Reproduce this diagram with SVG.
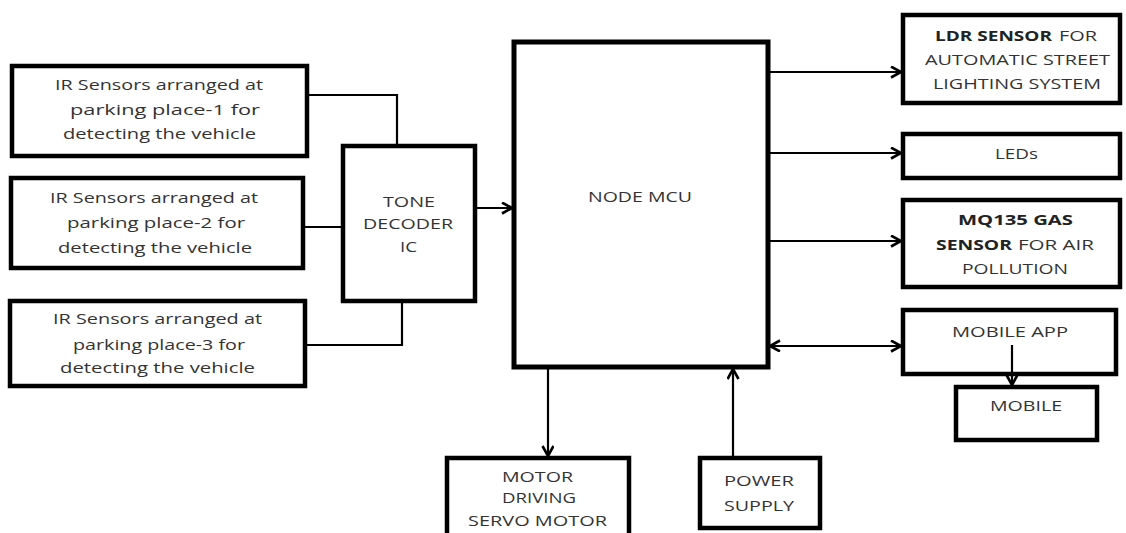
<svg xmlns="http://www.w3.org/2000/svg" width="1126" height="533" viewBox="0 0 1126 533">
<style>
.box{fill:#fff;stroke:#000;stroke-width:4.5}
.mcu{fill:#fff;stroke:#000;stroke-width:5}
.ln{fill:none;stroke:#000;stroke-width:2.2}
.t{font-family:"Open Sans","Liberation Sans",sans-serif;font-size:15px;fill:#333}
.b{font-weight:bold;fill:#222}
</style>
<defs>
<marker id="ah" markerUnits="userSpaceOnUse" markerWidth="14" markerHeight="14" refX="11" refY="6" orient="auto-start-reverse" viewBox="0 0 14 14">
<path d="M1,0.5 L11,6 L1,11.5" fill="none" stroke="#000" stroke-width="2.6"/>
</marker>
</defs>
<rect width="1126" height="533" fill="#fff"/>
<g id="ir1">
<rect class="box" x="12" y="66" width="295" height="90"/>
<text class="t" x="55" y="90" textLength="208" lengthAdjust="spacingAndGlyphs">IR Sensors arranged at</text>
<text class="t" x="70" y="115" textLength="190" lengthAdjust="spacingAndGlyphs">parking place-1 for</text>
<text class="t" x="63" y="139" textLength="193" lengthAdjust="spacingAndGlyphs">detecting the vehicle</text>
</g>
<g id="ir2">
<rect class="box" x="11" y="178" width="292" height="90"/>
<text class="t" x="50" y="203" textLength="208" lengthAdjust="spacingAndGlyphs">IR Sensors arranged at</text>
<text class="t" x="67" y="228" textLength="178" lengthAdjust="spacingAndGlyphs">parking place-2 for</text>
<text class="t" x="58" y="253" textLength="194" lengthAdjust="spacingAndGlyphs">detecting the vehicle</text>
</g>
<g id="ir3">
<rect class="box" x="10" y="301" width="295" height="85"/>
<text class="t" x="53" y="324" textLength="209" lengthAdjust="spacingAndGlyphs">IR Sensors arranged at</text>
<text class="t" x="73" y="350" textLength="172" lengthAdjust="spacingAndGlyphs">parking place-3 for</text>
<text class="t" x="60" y="373" textLength="195" lengthAdjust="spacingAndGlyphs">detecting the vehicle</text>
</g>
<g id="decoder">
<rect class="box" x="343" y="146" width="132" height="155"/>
<text class="t" x="383" y="207" textLength="52" lengthAdjust="spacingAndGlyphs">TONE</text>
<text class="t" x="363" y="229" textLength="90" lengthAdjust="spacingAndGlyphs">DECODER</text>
<text class="t" x="400" y="252" textLength="17" lengthAdjust="spacingAndGlyphs">IC</text>
</g>
<g id="nodemcu">
<rect class="mcu" x="514" y="42" width="254" height="325"/>
<text class="t" x="588" y="202" textLength="104" lengthAdjust="spacingAndGlyphs">NODE MCU</text>
</g>
<g id="ldr">
<rect class="box" x="903" y="15" width="217" height="88"/>
<text class="t b" x="935" y="41" textLength="117" lengthAdjust="spacingAndGlyphs">LDR SENSOR</text>
<text class="t" x="1059" y="41" textLength="38" lengthAdjust="spacingAndGlyphs">FOR</text>
<text class="t" x="925" y="65" textLength="185" lengthAdjust="spacingAndGlyphs">AUTOMATIC STREET</text>
<text class="t" x="933" y="89" textLength="168" lengthAdjust="spacingAndGlyphs">LIGHTING SYSTEM</text>
</g>
<g id="leds">
<rect class="box" x="903" y="134" width="217" height="44"/>
<text class="t" x="995" y="159" textLength="43" lengthAdjust="spacingAndGlyphs">LEDs</text>
</g>
<g id="mq135">
<rect class="box" x="903" y="200" width="217" height="87"/>
<text class="t b" x="958" y="225" textLength="115" lengthAdjust="spacingAndGlyphs">MQ135 GAS</text>
<text class="t b" x="936" y="250" textLength="76" lengthAdjust="spacingAndGlyphs">SENSOR</text>
<text class="t" x="1018" y="250" textLength="76" lengthAdjust="spacingAndGlyphs">FOR AIR</text>
<text class="t" x="962" y="274" textLength="106" lengthAdjust="spacingAndGlyphs">POLLUTION</text>
</g>
<g id="mobileapp">
<rect class="box" x="903" y="310" width="213" height="64"/>
<text class="t" x="952" y="337" textLength="116" lengthAdjust="spacingAndGlyphs">MOBILE APP</text>
</g>
<g id="mobile">
<rect class="box" x="956" y="387" width="141" height="53"/>
<text class="t" x="990" y="411" textLength="72" lengthAdjust="spacingAndGlyphs">MOBILE</text>
</g>
<g id="motor">
<rect class="box" x="447" y="458" width="182" height="90"/>
<text class="t" x="502" y="482" textLength="71" lengthAdjust="spacingAndGlyphs">MOTOR</text>
<text class="t" x="502" y="503" textLength="74" lengthAdjust="spacingAndGlyphs">DRIVING</text>
<text class="t" x="468" y="526" textLength="139" lengthAdjust="spacingAndGlyphs">SERVO MOTOR</text>
</g>
<g id="power">
<rect class="box" x="700" y="458" width="120" height="70"/>
<text class="t" x="724" y="486" textLength="70" lengthAdjust="spacingAndGlyphs">POWER</text>
<text class="t" x="724" y="511" textLength="70" lengthAdjust="spacingAndGlyphs">SUPPLY</text>
</g>
<g id="connectors">
<polyline class="ln" points="309,95 397,95 397,144"/>
<line class="ln" x1="305" y1="227" x2="341" y2="227"/>
<polyline class="ln" points="307,345 402,345 402,303"/>
<line class="ln" x1="477" y1="208" x2="512" y2="208" marker-end="url(#ah)"/>
<line class="ln" x1="770" y1="72" x2="901" y2="72" marker-end="url(#ah)"/>
<line class="ln" x1="770" y1="153" x2="901" y2="153" marker-end="url(#ah)"/>
<line class="ln" x1="770" y1="241" x2="901" y2="241" marker-end="url(#ah)"/>
<line class="ln" x1="770" y1="346" x2="901" y2="346" marker-start="url(#ah)" marker-end="url(#ah)"/>
<line class="ln" x1="1012" y1="345" x2="1012" y2="385" marker-end="url(#ah)"/>
<line class="ln" x1="548" y1="369" x2="548" y2="456" marker-end="url(#ah)"/>
<line class="ln" x1="733" y1="456" x2="733" y2="369" marker-end="url(#ah)"/>
</g>
</svg>
